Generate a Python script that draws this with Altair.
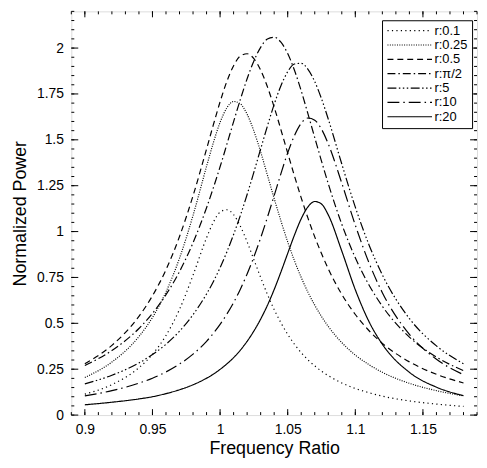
import altair as alt
import pandas as pd

# ---- data ----
freq = [0.90, 0.92, 0.94, 0.95, 0.96, 0.97, 0.98, 0.99, 0.995, 1.00, 1.005, 1.01,
        1.015, 1.02, 1.025, 1.03, 1.035, 1.04, 1.045, 1.05, 1.055, 1.06, 1.065,
        1.07, 1.075, 1.08, 1.09, 1.10, 1.11, 1.12, 1.14, 1.16, 1.18]

p_r01 = [0.114, 0.166, 0.258, 0.331, 0.434, 0.576, 0.762, 0.966, 1.051, 1.106, 1.119,
         1.092, 1.029, 0.944, 0.847, 0.750, 0.658, 0.575, 0.503, 0.440, 0.386, 0.340,
         0.301, 0.268, 0.239, 0.215, 0.175, 0.145, 0.122, 0.103, 0.077, 0.060, 0.047]
p_r025 = [0.205, 0.289, 0.428, 0.532, 0.671, 0.855, 1.088, 1.355, 1.484, 1.595, 1.674,
          1.709, 1.696, 1.639, 1.548, 1.434, 1.308, 1.180, 1.058, 0.944, 0.841, 0.750,
          0.669, 0.599, 0.537, 0.483, 0.395, 0.327, 0.275, 0.233, 0.173, 0.133, 0.105]
p_r05 = [0.280, 0.380, 0.538, 0.650, 0.792, 0.973, 1.195, 1.450, 1.581, 1.707, 1.818,
         1.904, 1.957, 1.969, 1.942, 1.880, 1.789, 1.678, 1.555, 1.428, 1.303, 1.184,
         1.073, 0.971, 0.880, 0.797, 0.658, 0.548, 0.461, 0.391, 0.290, 0.222, 0.175]
p_rpi2 = [0.270, 0.352, 0.472, 0.554, 0.656, 0.782, 0.939, 1.130, 1.238, 1.353, 1.475,
          1.599, 1.720, 1.833, 1.930, 2.004, 2.049, 2.059, 2.032, 1.970, 1.879, 1.767,
          1.641, 1.512, 1.384, 1.261, 1.040, 0.857, 0.710, 0.593, 0.425, 0.316, 0.242]
p_r5 = [0.170, 0.217, 0.284, 0.330, 0.386, 0.457, 0.547, 0.660, 0.727, 0.803, 0.889,
        0.984, 1.088, 1.202, 1.324, 1.450, 1.575, 1.693, 1.795, 1.871, 1.913, 1.917,
        1.884, 1.817, 1.724, 1.613, 1.368, 1.133, 0.930, 0.764, 0.526, 0.377, 0.280]
p_r10 = [0.105, 0.133, 0.174, 0.201, 0.235, 0.278, 0.332, 0.402, 0.445, 0.494, 0.550,
         0.613, 0.686, 0.769, 0.862, 0.965, 1.078, 1.196, 1.316, 1.429, 1.523, 1.590,
         1.619, 1.607, 1.558, 1.478, 1.264, 1.035, 0.832, 0.667, 0.440, 0.304, 0.220]
p_r20 = [0.056, 0.070, 0.088, 0.100, 0.117, 0.138, 0.165, 0.201, 0.223, 0.249, 0.279,
         0.313, 0.354, 0.402, 0.458, 0.523, 0.598, 0.684, 0.780, 0.881, 0.981, 1.070,
         1.135, 1.164, 1.150, 1.091, 0.894, 0.683, 0.511, 0.386, 0.233, 0.152, 0.106]

labels = ["r:0.1", "r:0.25", "r:0.5", "r:π/2", "r:5", "r:10", "r:20"]
series = [p_r01, p_r025, p_r05, p_rpi2, p_r5, p_r10, p_r20]

x_major = [0.9, 0.95, 1.0, 1.05, 1.1, 1.15]
y_major = [0, 0.25, 0.5, 0.75, 1.0, 1.25, 1.5, 1.75, 2.0]
x_minor = [round(0.89 + 0.01 * i, 2) for i in range(31)]
y_minor = [round(0.05 * i, 2) for i in range(45)]

# ---- styles ----
dashes = [[1.2, 3.3], [1, 1.4], [6, 4], [8, 3, 1.5, 3],
          [9, 2.5, 1.5, 2.5, 1.5, 2.5, 1.5, 2.5], [12, 4, 1.5, 4], [1, 0]]
FONT = "Liberation Sans"
W, H = 410, 408

rows = []
for lab, ys in zip(labels, series):
    for xv, yv in zip(freq, ys):
        rows.append({"ratio": xv, "power": yv, "curve": lab})
df = pd.DataFrame(rows)

xscale = alt.Scale(domain=[0.89, 1.19], nice=False, zero=False)
yscale = alt.Scale(domain=[0, 2.2], nice=False, zero=False)

xaxis = alt.Axis(values=x_major, labelExpr="'' + datum.value", title="Frequency Ratio",
                 ticks=False, domain=False, grid=False, labelFlush=False,
                 labelPadding=8, labelFontSize=14, labelFont=FONT, labelColor="black",
                 titleFont=FONT, titleFontSize=18, titleFontWeight="normal",
                 titleColor="black", titleBaseline="alphabetic", titleY=39)
yaxis = alt.Axis(values=y_major, labelExpr="'' + datum.value", title="Normalized Power",
                 ticks=False, domain=False, grid=False, labelFlush=False,
                 labelPadding=8, labelFontSize=14, labelFont=FONT, labelColor="black",
                 titleFont=FONT, titleFontSize=18, titleFontWeight="normal",
                 titleColor="black", titleBaseline="alphabetic", titleX=-46)

lines = alt.Chart(df).mark_line(color="black", strokeWidth=1.2, interpolate="monotone").encode(
    x=alt.X("ratio:Q", scale=xscale, axis=xaxis),
    y=alt.Y("power:Q", scale=yscale, axis=yaxis),
    strokeDash=alt.StrokeDash("curve:N", scale=alt.Scale(domain=labels, range=dashes),
                              title=None,
                              legend=alt.Legend(orient="none", legendX=314, legendY=9,
                                                direction="vertical",
                                                symbolType="M-1,0L8,0", symbolSize=100,
                                                symbolStrokeWidth=1.2, symbolStrokeColor="black",
                                                labelFont=FONT, labelFontSize=13, labelColor="black",
                                                labelOffset=36, strokeColor="black",
                                                fillColor="white", padding=4, rowPadding=0.5)),
)

xt_major = pd.DataFrame({"ratio": x_major})
xt_minor = pd.DataFrame({"ratio": x_minor})
yt_major = pd.DataFrame({"power": y_major})
yt_minor = pd.DataFrame({"power": y_minor})


def xticks(data, length):
    base = alt.Chart(data).mark_rule(color="black", strokeWidth=1)
    bottom = base.encode(x=alt.X("ratio:Q", scale=xscale, axis=xaxis),
                         y=alt.value(H), y2=alt.value(H - length))
    top = base.encode(x=alt.X("ratio:Q", scale=xscale, axis=xaxis),
                      y=alt.value(0), y2=alt.value(length))
    return [bottom, top]


def yticks(data, length):
    base = alt.Chart(data).mark_rule(color="black", strokeWidth=1)
    left = base.encode(y=alt.Y("power:Q", scale=yscale, axis=yaxis),
                       x=alt.value(0), x2=alt.value(length))
    right = base.encode(y=alt.Y("power:Q", scale=yscale, axis=yaxis),
                        x=alt.value(W), x2=alt.value(W - length))
    return [left, right]


layers = [lines] + xticks(xt_major, 6) + xticks(xt_minor, 3) + yticks(yt_major, 7) + yticks(yt_minor, 3)

chart = alt.layer(*layers).properties(
    width=W, height=H,
    padding={"left": 64, "top": 1, "right": 2, "bottom": 43},
    autosize=alt.AutoSizeParams(type="none"),
    background="white",
).configure_view(stroke="black", strokeWidth=1).configure(font=FONT)

chart.save("out.html", embed_options={"renderer": "svg", "actions": False})
